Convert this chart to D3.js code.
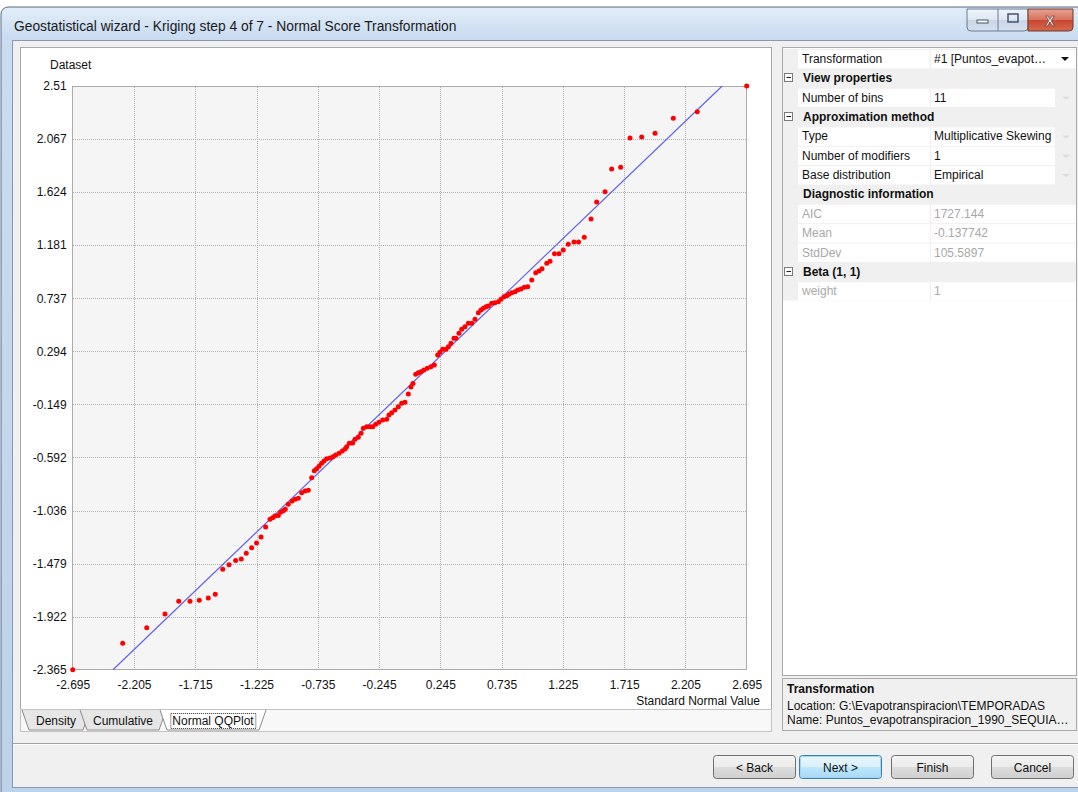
<!DOCTYPE html>
<html>
<head>
<meta charset="utf-8">
<script src="https://cdn.jsdelivr.net/npm/d3@7/dist/d3.min.js"></script>
<style>
html, body { margin: 0; padding: 0; background: #fff; }
svg { display: block; font-family: "Segoe UI", "Liberation Sans", Arial, sans-serif; }
</style>
</head>
<body>
<svg id="wizard" width="1078" height="792"></svg>
<script>
// QQ plot values: x = standard normal value, y = dataset (normal score)
const normalScores = [
  -2.695, -2.295, -2.103, -1.957, -1.847, -1.757, -1.683, -1.611, -1.555, -1.495,
  -1.445, -1.392, -1.347, -1.307, -1.264, -1.225, -1.189, -1.152, -1.117, -1.096,
  -1.077, -1.051, -1.032, -1.011, -0.995, -0.971, -0.941, -0.917, -0.891, -0.864,
  -0.837, -0.811, -0.784, -0.763, -0.744, -0.725, -0.704, -0.685, -0.664, -0.637,
  -0.613, -0.592, -0.565, -0.539, -0.517, -0.504, -0.483, -0.456, -0.437, -0.411,
  -0.389, -0.371, -0.344, -0.318, -0.296, -0.272, -0.246, -0.216, -0.184, -0.166,
  -0.144, -0.118, -0.091, -0.064, -0.038, -0.011, 0.010, 0.026, 0.048, 0.069,
  0.090, 0.114, 0.141, 0.170, 0.197, 0.224, 0.242, 0.264, 0.290, 0.309,
  0.330, 0.354, 0.370, 0.394, 0.416, 0.442, 0.469, 0.496, 0.522, 0.549,
  0.570, 0.589, 0.610, 0.629, 0.656, 0.682, 0.709, 0.730, 0.754, 0.776,
  0.794, 0.816, 0.842, 0.864, 0.890, 0.916, 0.944, 0.976, 1.008, 1.034,
  1.058, 1.096, 1.122, 1.158, 1.194, 1.228, 1.268, 1.314, 1.350, 1.396,
  1.450, 1.495, 1.562, 1.615, 1.687, 1.762, 1.855, 1.962, 2.108, 2.300, 2.695
]
const datasetValues = [
  -2.365, -2.145, -2.014, -1.900, -1.794, -1.794, -1.785, -1.766, -1.735, -1.527,
  -1.488, -1.453, -1.441, -1.393, -1.346, -1.307, -1.257, -1.173, -1.109, -1.096,
  -1.081, -1.077, -1.050, -1.037, -1.025, -0.984, -0.956, -0.942, -0.934, -0.887,
  -0.873, -0.867, -0.761, -0.703, -0.686, -0.666, -0.641, -0.622, -0.603, -0.597,
  -0.586, -0.572, -0.558, -0.539, -0.522, -0.503, -0.474, -0.472, -0.441, -0.424,
  -0.391, -0.349, -0.336, -0.336, -0.336, -0.316, -0.299, -0.280, -0.274, -0.238,
  -0.219, -0.196, -0.168, -0.140, -0.132, -0.062, -0.004, 0.025, 0.102, 0.116,
  0.124, 0.138, 0.152, 0.166, 0.180, 0.263, 0.286, 0.311, 0.311, 0.333,
  0.361, 0.403, 0.403, 0.445, 0.478, 0.500, 0.528, 0.528, 0.562, 0.617,
  0.639, 0.653, 0.667, 0.673, 0.695, 0.700, 0.708, 0.729, 0.750, 0.759,
  0.770, 0.784, 0.792, 0.806, 0.815, 0.829, 0.834, 0.890, 0.951, 0.965,
  0.984, 1.029, 1.046, 1.109, 1.109, 1.140, 1.189, 1.207, 1.207, 1.247,
  1.399, 1.541, 1.627, 1.817, 1.831, 2.076, 2.084, 2.115, 2.240, 2.295, 2.510
]

// reference line (end points inside the plot)
const refLineX = [-2.373, 2.499]
const refLineY = [-2.365, 2.510]

const xTicks = [-2.695, -2.205, -1.715, -1.225, -0.735, -0.245, 0.245, 0.735, 1.225, 1.715, 2.205, 2.695]
const xTickLabels = ['-2.695', '-2.205', '-1.715', '-1.225', '-0.735', '-0.245', '0.245', '0.735', '1.225', '1.715', '2.205', '2.695']
const yTicks = [2.51, 2.067, 1.624, 1.181, 0.737, 0.294, -0.149, -0.592, -1.036, -1.479, -1.922, -2.365]
const yTickLabels = ['2.51', '2.067', '1.624', '1.181', '0.737', '0.294', '-0.149', '-0.592', '-1.036', '-1.479', '-1.922', '-2.365']

const tabNames = ['Density', 'Cumulative', 'Normal QQPlot']
const buttonLabels = ['< Back', 'Next >', 'Finish', 'Cancel']

// property grid: [name, value, kind]
const gridRows = [
  ['Transformation', '#1 [Puntos_evapot\u2026', 'combo'],
  ['View properties', '', 'cat'],
  ['Number of bins', '11', 'row'],
  ['Approximation method', '', 'cat'],
  ['Type', 'Multiplicative Skewing', 'row'],
  ['Number of modifiers', '1', 'row'],
  ['Base distribution', 'Empirical', 'row'],
  ['Diagnostic information', '', 'catplain'],
  ['AIC', '1727.144', 'dim'],
  ['Mean', '-0.137742', 'dim'],
  ['StdDev', '105.5897', 'dim'],
  ['Beta (1, 1)', '', 'cat'],
  ['weight', '1', 'dim']
]
const descTitle = 'Transformation'
const descLines = ['Location: G:\\Evapotranspiracion\\TEMPORADAS', 'Name: Puntos_evapotranspiracion_1990_SEQUIA\u2026']

const svg = d3.select('#wizard')
const defs = svg.append('defs')

function vGrad(id, stops) {
  const g = defs.append('linearGradient').attr('id', id).attr('x1', 0).attr('y1', 0).attr('x2', 0).attr('y2', 1)
  stops.forEach(([o, c]) => g.append('stop').attr('offset', o).attr('stop-color', c))
}
vGrad('frameGrad', [[0, '#d6e5f5'], [0.05, '#c9dcf0'], [1, '#bcd2ea']])
vGrad('titleGrad', [[0, '#e2edf8'], [1, '#c6daf0']])
vGrad('btnGrad', [[0, '#f4f4f4'], [0.5, '#ebebeb'], [0.5, '#dddddd'], [1, '#cfcfcf']])
vGrad('nextGrad', [[0, '#eaf6fd'], [0.5, '#d9f0fc'], [0.5, '#bee6fd'], [1, '#a7d9f5']])
vGrad('capGrad', [[0, '#f0f4fa'], [0.5, '#dfe7f2'], [0.5, '#c9d5e6'], [1, '#d6e1ef']])
vGrad('closeGrad', [[0, '#e8a292'], [0.5, '#d7705d'], [0.5, '#c7462e'], [1, '#d66a4e']])

// ---------- window frame ----------
svg.append('rect').attr('x', 1).attr('y', 7).attr('width', 1090).attr('height', 800)
  .attr('rx', 7).attr('fill', 'url(#frameGrad)').attr('stroke', '#5d6f86')
svg.append('rect').attr('x', 2).attr('y', 8).attr('width', 1090).attr('height', 32)
  .attr('rx', 6).attr('fill', 'url(#titleGrad)')
svg.append('text').attr('x', 14).attr('y', 31).attr('font-size', 13.8).attr('fill', '#1a1a1a')
  .text('Geostatistical wizard - Kriging step 4 of 7 - Normal Score Transformation')

// caption buttons
const caps = svg.append('g')
caps.append('path').attr('d', 'M967,9 h61 v18 a4,4 0 0 1 -4,4 h-53 a4,4 0 0 1 -4,-4 z')
  .attr('fill', 'url(#capGrad)').attr('stroke', '#6b7b94')
caps.append('line').attr('x1', 998).attr('x2', 998).attr('y1', 9).attr('y2', 31).attr('stroke', '#6b7b94')
caps.append('rect').attr('x', 977).attr('y', 20).attr('width', 11).attr('height', 3).attr('fill', '#fff').attr('stroke', '#44546c')
caps.append('rect').attr('x', 1008).attr('y', 14).attr('width', 10).attr('height', 8).attr('fill', 'none').attr('stroke', '#44546c').attr('stroke-width', 1.5)
caps.append('path').attr('d', 'M1028,9 h45 v18 a4,4 0 0 1 -4,4 h-41 z')
  .attr('fill', 'url(#closeGrad)').attr('stroke', '#6b3a30')
caps.append('text').attr('x', 1050).attr('y', 26).attr('text-anchor', 'middle')
  .attr('font-size', 14).attr('font-weight', 'bold').attr('fill', '#fff')
  .attr('stroke', '#5a2a22').attr('stroke-width', 0.6).text('X')

// client area
svg.append('rect').attr('x', 12.5).attr('y', 40.5).attr('width', 1070).attr('height', 747)
  .attr('fill', '#f0f0f0').attr('stroke', '#8899ad')

// ---------- chart panel ----------
svg.append('rect').attr('x', 20.5).attr('y', 47.5).attr('width', 751).attr('height', 662)
  .attr('fill', '#fff').attr('stroke', '#a9a9a9')
svg.append('rect').attr('x', 20.5).attr('y', 709.5).attr('width', 751).attr('height', 22)
  .attr('fill', '#f8f8f8').attr('stroke', '#c4c4c4')

const plot = { left: 72.7, right: 746.7, top: 86, bottom: 669.7 }
const x = d3.scaleLinear().domain([xTicks[0], xTicks[xTicks.length - 1]]).range([plot.left, plot.right])
const y = d3.scaleLinear().domain([yTicks[yTicks.length - 1], yTicks[0]]).range([plot.bottom, plot.top])

const chart = svg.append('g')
chart.append('rect').attr('x', plot.left).attr('y', plot.top)
  .attr('width', plot.right - plot.left).attr('height', plot.bottom - plot.top)
  .attr('fill', '#f5f5f5')

// dotted grid through the axes
const xGrid = chart.append('g').attr('transform', `translate(0,${plot.bottom})`)
  .call(d3.axisBottom(x).tickValues(xTicks.slice(1, -1)).tickSize(-(plot.bottom - plot.top)).tickFormat(''))
const yGrid = chart.append('g').attr('transform', `translate(${plot.left},0)`)
  .call(d3.axisLeft(y).tickValues(yTicks.slice(1, -1)).tickSize(-(plot.right - plot.left)).tickFormat(''))
;[xGrid, yGrid].forEach((g) => {
  g.select('.domain').remove()
  g.selectAll('line').attr('stroke', '#b2b2b2').attr('stroke-dasharray', '1,1').attr('shape-rendering', 'crispEdges')
})

chart.append('rect').attr('x', plot.left).attr('y', plot.top)
  .attr('width', plot.right - plot.left).attr('height', plot.bottom - plot.top)
  .attr('fill', 'none').attr('stroke', '#ababab').attr('shape-rendering', 'crispEdges')

// tick labels
const xAxis = chart.append('g').attr('transform', `translate(0,${plot.bottom})`)
  .call(d3.axisBottom(x).tickValues(xTicks).tickSize(0).tickPadding(11)
    .tickFormat((d, i) => xTickLabels[i]))
const yAxis = chart.append('g').attr('transform', `translate(${plot.left},0)`)
  .call(d3.axisLeft(y).tickValues(yTicks).tickSize(0).tickPadding(6)
    .tickFormat((d, i) => yTickLabels[i]))
;[xAxis, yAxis].forEach((g) => {
  g.select('.domain').remove()
  g.selectAll('text').attr('font-size', 12).attr('fill', '#111').attr('font-family', null)
})

chart.append('text').attr('x', 50).attr('y', 69).attr('font-size', 12).attr('fill', '#111').text('Dataset')
chart.append('text').attr('x', 760).attr('y', 705).attr('text-anchor', 'end')
  .attr('font-size', 12).attr('fill', '#111').text('Standard Normal Value')

// reference line
chart.append('line')
  .attr('x1', x(refLineX[0])).attr('y1', y(refLineY[0]))
  .attr('x2', x(refLineX[1])).attr('y2', y(refLineY[1]))
  .attr('stroke', '#6262f0').attr('stroke-width', 1.2)

// points
chart.append('g').selectAll('circle')
  .data(normalScores.map((v, i) => ({ x: v, y: datasetValues[i] })))
  .enter().append('circle')
  .attr('cx', (d) => x(d.x))
  .attr('cy', (d) => y(d.y))
  .attr('r', 2.5)
  .attr('fill', '#ff0000')

// ---------- tabs ----------
const tabGeom = [
  { x0: 22, x1: 90 },
  { x0: 80, x1: 166 },
  { x0: 160, x1: 266 }
]
const tabs = svg.append('g')
tabGeom.forEach((t, i) => {
  const active = i === 2
  tabs.append('path')
    .attr('d', `M${t.x0},710 L${t.x0 + 7},730 L${t.x1 - 7},730 L${t.x1},710`)
    .attr('fill', active ? '#ffffff' : '#e6e6e6')
    .attr('stroke', '#8c8c8c')
  const tx = (t.x0 + t.x1) / 2
  const label = tabs.append('text').attr('x', tx).attr('y', 725).attr('text-anchor', 'middle')
    .attr('font-size', 12).attr('fill', '#111').text(tabNames[i])
  if (active) {
    const bb = label.node().getBBox()
    tabs.append('rect').attr('x', bb.x - 1.5).attr('y', 713.5).attr('width', bb.width + 3).attr('height', 15)
      .attr('fill', 'none').attr('stroke', '#333').attr('stroke-dasharray', '1,1')
  }
})

// separator above buttons
svg.append('line').attr('x1', 13).attr('x2', 1078).attr('y1', 743.5).attr('y2', 743.5).attr('stroke', '#a0a0a0')
svg.append('line').attr('x1', 13).attr('x2', 1078).attr('y1', 744.5).attr('y2', 744.5).attr('stroke', '#fff')

// ---------- property grid ----------
const grid = svg.append('g')
const gx = { left: 782, name: 798, val: 931, valEnd: 1055, right: 1076 }
const rowTop = 49
const rowH = 19.35
grid.append('rect').attr('x', gx.left + 0.5).attr('y', 47.5).attr('width', gx.right - gx.left).attr('height', 628)
  .attr('fill', '#fff').attr('stroke', '#a9a9a9')
grid.append('rect').attr('x', gx.left + 1).attr('y', rowTop).attr('width', gx.right - gx.left - 1)
  .attr('height', rowH * gridRows.length).attr('fill', '#f0f0f0')

gridRows.forEach(([name, value, kind], i) => {
  const top = rowTop + i * rowH
  const base = top + 14
  if (kind === 'cat' || kind === 'catplain') {
    if (kind === 'cat') {
      grid.append('rect').attr('x', 784.5).attr('y', Math.round(top + 5) + 0.5).attr('width', 8).attr('height', 8)
        .attr('fill', '#fff').attr('stroke', '#7a7a7a')
      grid.append('line').attr('x1', 786.5).attr('x2', 791).attr('y1', Math.round(top + 5) + 4.5).attr('y2', Math.round(top + 5) + 4.5)
        .attr('stroke', '#222')
    }
    grid.append('text').attr('x', 803).attr('y', base).attr('font-size', 12).attr('font-weight', 'bold')
      .attr('fill', '#111').text(name)
    return
  }
  const valRight = kind === 'row' ? gx.valEnd : gx.right
  grid.append('rect').attr('x', gx.name).attr('y', top + 1).attr('width', gx.val - gx.name - 1).attr('height', rowH - 1).attr('fill', '#fff')
  grid.append('rect').attr('x', gx.val).attr('y', top + 1).attr('width', valRight - gx.val).attr('height', rowH - 1).attr('fill', '#fff')
  const color = kind === 'dim' ? '#a8a8a8' : '#111'
  grid.append('text').attr('x', 802).attr('y', base).attr('font-size', 12).attr('fill', color).text(name)
  grid.append('text').attr('x', 934).attr('y', base).attr('font-size', 12).attr('fill', color).text(value)
  if (kind === 'combo') {
    grid.append('path').attr('d', `M1061,${top + 8} h8 l-4,4 z`).attr('fill', '#111')
  } else if (kind === 'row') {
    grid.append('path').attr('d', `M1062,${top + 9} h8 l-4,3 z`).attr('fill', '#dcdcdc')
  }
})

// description area
const desc = svg.append('g')
desc.append('rect').attr('x', 782.5).attr('y', 678.5).attr('width', 294).attr('height', 52)
  .attr('fill', '#f0f0f0').attr('stroke', '#a9a9a9')
desc.append('text').attr('x', 787).attr('y', 693).attr('font-size', 12).attr('font-weight', 'bold')
  .attr('fill', '#111').text(descTitle)
descLines.forEach((t, i) => {
  desc.append('text').attr('x', 787).attr('y', 710 + i * 14).attr('font-size', 12).attr('fill', '#111').text(t)
})

// ---------- buttons ----------
const btnX = [713, 799, 891, 991]
const btns = svg.append('g')
buttonLabels.forEach((label, i) => {
  const isNext = i === 1
  btns.append('rect').attr('x', btnX[i] + 0.5).attr('y', 755.5).attr('width', 82).attr('height', 23).attr('rx', 3)
    .attr('fill', isNext ? 'url(#nextGrad)' : 'url(#btnGrad)')
    .attr('stroke', isNext ? '#3c7fb1' : '#707070')
  if (isNext) {
    btns.append('rect').attr('x', btnX[i] + 1.5).attr('y', 756.5).attr('width', 80).attr('height', 21).attr('rx', 2)
      .attr('fill', 'none').attr('stroke', '#9fd5f7')
  }
  btns.append('text').attr('x', btnX[i] + 41.5).attr('y', 771.5).attr('text-anchor', 'middle')
    .attr('font-size', 12).attr('fill', '#111').text(label)
})
</script>
</body>
</html>
